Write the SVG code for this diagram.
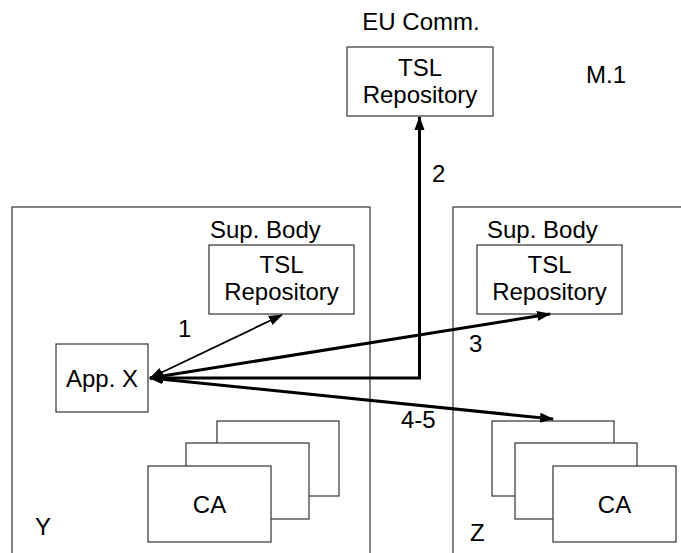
<svg xmlns="http://www.w3.org/2000/svg" width="681" height="553" viewBox="0 0 681 553">
<style>
.box{fill:#fff;stroke:#333;stroke-width:1.2}
.t{font-family:"Liberation Sans",Arial,sans-serif;font-size:24px;fill:#000}
.m{text-anchor:middle}
.c{fill:none;stroke:#000}
.thin{stroke-width:1.8}
.thick{stroke-width:3}
</style>
<defs>
<marker id="ah" markerUnits="userSpaceOnUse" markerWidth="14" markerHeight="12" refX="13" refY="5" orient="auto-start-reverse" viewBox="0 0 14 10">
<path d="M0,0 L14,5 L0,10 Z" fill="#000"/>
</marker>
</defs>
<rect width="681" height="553" fill="#fff"/>
<polygon points="668,553 681,525 681,553" fill="#e6e6e6"/>
<g id="regionY">
<rect class="box" x="12" y="207" width="358" height="360"/>
<text class="t" x="35" y="535">Y</text>
</g>
<g id="regionZ">
<rect class="box" x="453" y="207" width="260" height="360"/>
<text class="t" x="470" y="541">Z</text>
</g>
<g id="euTSL">
<text class="t m" x="421" y="30">EU Comm.</text>
<rect class="box" x="347" y="47" width="146" height="69"/>
<text class="t m" x="420" y="76">TSL</text>
<text class="t m" x="420" y="103">Repository</text>
</g>
<text class="t" x="586" y="83">M.1</text>
<g id="supY">
<text class="t" x="210" y="238">Sup. Body</text>
<rect class="box" x="209" y="245" width="145" height="69"/>
<text class="t m" x="281.5" y="273">TSL</text>
<text class="t m" x="281.5" y="300">Repository</text>
</g>
<g id="supZ">
<text class="t" x="487" y="238">Sup. Body</text>
<rect class="box" x="477" y="245" width="145" height="69"/>
<text class="t m" x="549.5" y="273">TSL</text>
<text class="t m" x="549.5" y="300">Repository</text>
</g>
<g id="appX">
<rect class="box" x="56" y="344" width="92" height="68"/>
<text class="t m" x="102" y="387">App. X</text>
</g>
<g id="caY">
<rect class="box" x="217" y="421" width="122" height="75"/>
<rect class="box" x="186" y="443" width="123" height="76"/>
<rect class="box" x="148" y="466" width="123" height="76"/>
<text class="t m" x="209.5" y="513">CA</text>
</g>
<g id="caZ">
<rect class="box" x="492" y="421" width="122" height="75"/>
<rect class="box" x="515" y="443" width="122" height="76"/>
<rect class="box" x="553" y="466" width="123" height="76"/>
<text class="t m" x="614.5" y="513">CA</text>
</g>
<g id="connectors">
<path class="c thin" d="M150,378 L282,315" marker-start="url(#ah)" marker-end="url(#ah)"/>
<path class="c thick" d="M150,378 L419.5,378 L419.5,117" marker-start="url(#ah)" marker-end="url(#ah)"/>
<path class="c thick" d="M150,378 L550,314" marker-start="url(#ah)" marker-end="url(#ah)"/>
<path class="c thick" d="M150,378 L553,419" marker-start="url(#ah)" marker-end="url(#ah)"/>
<text class="t" x="178" y="337">1</text>
<text class="t" x="432" y="182">2</text>
<text class="t" x="469" y="352">3</text>
<text class="t" x="401" y="428">4-5</text>
</g>
</svg>
